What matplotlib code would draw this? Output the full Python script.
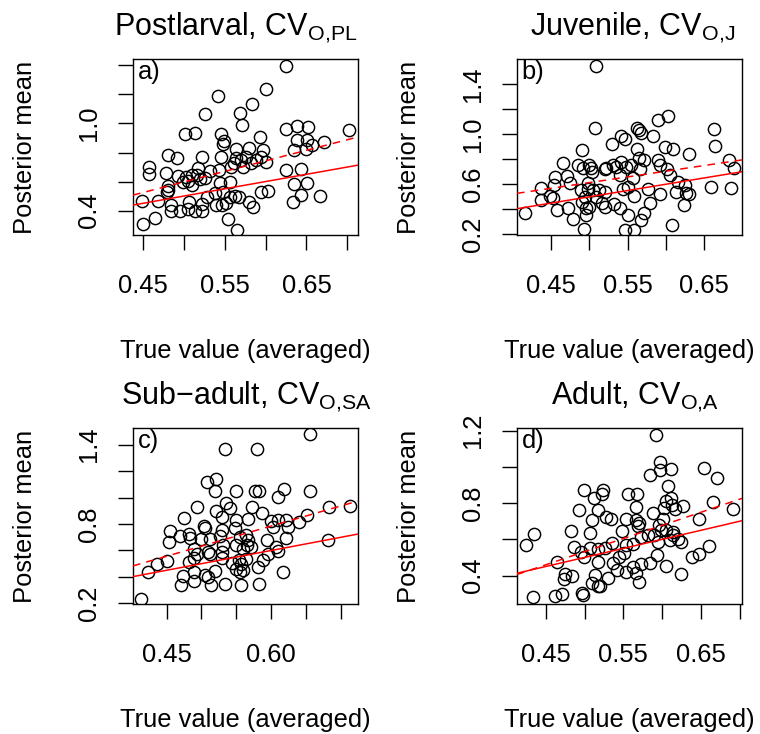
import matplotlib
matplotlib.use("Agg")
import matplotlib.pyplot as plt

plt.rcParams['font.family'] = ['Liberation Sans', 'DejaVu Sans']
plt.rcParams['mathtext.fontset'] = 'custom'
plt.rcParams['mathtext.rm'] = 'Liberation Sans'
plt.rcParams['font.size'] = 18.4

# ---------------- data ----------------
titles = ["Postlarval, CV$_{\\mathregular{O{,}PL}}$",
          "Juvenile, CV$_{\\mathregular{O{,}J}}$",
          "Sub\u2212adult, CV$_{\\mathregular{O{,}SA}}$",
          "Adult, CV$_{\\mathregular{O{,}A}}$"]
panel_tags = ["a)", "b)", "c)", "d)"]
xlabel_text = "True value (averaged)"
ylabel_text = "Posterior mean"

xa = [0.625,0.601,0.542,0.584,0.569,0.526,0.571,0.501,0.514,0.545,
      0.549,0.548,0.593,0.625,0.638,0.652,0.702,0.638,0.651,0.657,
      0.671,0.649,0.635,0.481,0.492,0.522,0.545,0.564,0.580,0.597,
      0.595,0.588,0.570,0.562,0.558,0.572,0.582,0.601,0.458,0.458,
      0.478,0.493,0.503,0.510,0.518,0.516,0.532,0.526,0.520,0.505,
      0.499,0.510,0.543,0.544,0.557,0.481,0.481,0.479,0.449,0.469,
      0.528,0.538,0.548,0.556,0.563,0.568,0.595,0.603,0.625,0.643,
      0.635,0.651,0.643,0.634,0.666,0.484,0.484,0.496,0.505,0.507,
      0.514,0.522,0.522,0.540,0.547,0.552,0.580,0.585,0.465,0.450,
      0.554,0.565,0.564,0.576]
ya = [1.398,1.239,1.191,1.133,1.071,1.064,0.991,0.926,0.933,0.926,
      0.876,0.857,0.910,0.963,0.986,0.975,0.952,0.887,0.883,0.853,
      0.869,0.823,0.814,0.784,0.761,0.768,0.772,0.823,0.834,0.814,
      0.768,0.749,0.749,0.726,0.703,0.699,0.726,0.738,0.699,0.653,
      0.657,0.639,0.634,0.646,0.692,0.646,0.676,0.623,0.616,0.607,
      0.600,0.577,0.680,0.589,0.595,0.570,0.543,0.531,0.469,0.469,
      0.497,0.524,0.531,0.497,0.503,0.497,0.526,0.538,0.680,0.687,
      0.584,0.589,0.508,0.462,0.503,0.439,0.400,0.398,0.409,0.462,
      0.400,0.400,0.446,0.439,0.439,0.451,0.462,0.423,0.352,0.308,
      0.340,0.267,0.761,0.772]

xb = [0.508,0.507,0.603,0.590,0.562,0.565,0.568,0.583,0.541,0.546,
      0.529,0.562,0.599,0.610,0.630,0.663,0.664,0.683,0.689,0.660,
      0.685,0.490,0.485,0.465,0.500,0.502,0.503,0.492,0.522,0.531,
      0.535,0.542,0.548,0.555,0.565,0.571,0.590,0.593,0.602,0.566,
      0.540,0.557,0.455,0.471,0.474,0.453,0.436,0.448,0.437,0.452,
      0.416,0.457,0.472,0.478,0.493,0.489,0.498,0.498,0.505,0.494,
      0.490,0.495,0.496,0.500,0.513,0.521,0.509,0.516,0.521,0.532,
      0.540,0.544,0.550,0.546,0.559,0.567,0.571,0.580,0.577,0.592,
      0.559,0.608,0.613,0.616,0.625,0.627,0.630,0.624,0.605,0.520,0.551]
yb = [1.547,1.053,1.147,1.115,1.053,1.035,1.013,0.989,0.987,0.960,
      0.920,0.880,0.901,0.883,0.843,1.040,0.907,0.795,0.728,0.576,
      0.568,0.875,0.755,0.768,0.755,0.728,0.701,0.728,0.728,0.755,
      0.736,0.781,0.741,0.755,0.808,0.795,0.795,0.755,0.720,0.720,
      0.675,0.648,0.656,0.667,0.608,0.595,0.573,0.507,0.475,0.488,
      0.368,0.395,0.408,0.320,0.240,0.555,0.613,0.560,0.555,0.501,
      0.461,0.408,0.355,0.421,0.555,0.541,0.501,0.453,0.421,0.443,
      0.408,0.560,0.355,0.235,0.235,0.315,0.368,0.448,0.560,0.523,
      0.507,0.275,0.541,0.621,0.595,0.533,0.523,0.435,0.675,0.720,0.581]

xc = [0.656,0.533,0.579,0.508,0.521,0.519,0.549,0.576,0.582,0.618,
      0.610,0.655,0.535,0.541,0.493,0.521,0.529,0.573,0.587,0.683,
      0.712,0.651,0.475,0.455,0.454,0.469,0.482,0.483,0.499,0.503,
      0.505,0.512,0.526,0.530,0.548,0.550,0.567,0.555,0.564,0.567,
      0.565,0.560,0.550,0.571,0.602,0.600,0.610,0.621,0.624,0.639,
      0.621,0.594,0.607,0.610,0.681,0.489,0.493,0.489,0.482,0.510,
      0.512,0.529,0.530,0.543,0.554,0.557,0.550,0.555,0.560,0.581,
      0.588,0.595,0.616,0.450,0.437,0.424,0.414,0.473,0.470,0.490,
      0.490,0.505,0.510,0.514,0.519,0.533,0.556,0.583,0.564,0.531]
yc = [1.484,1.368,1.368,1.114,1.139,1.053,1.053,1.050,1.050,1.065,
      1.007,1.053,0.961,0.918,0.931,0.901,0.855,0.926,0.885,0.931,
      0.936,0.868,0.842,0.748,0.664,0.710,0.728,0.697,0.690,0.784,
      0.766,0.685,0.708,0.758,0.766,0.829,0.835,0.703,0.715,0.677,
      0.639,0.614,0.639,0.626,0.779,0.824,0.829,0.829,0.779,0.817,
      0.697,0.682,0.626,0.596,0.677,0.614,0.571,0.545,0.512,0.588,
      0.576,0.588,0.545,0.505,0.525,0.499,0.461,0.436,0.449,0.474,
      0.525,0.576,0.436,0.517,0.494,0.436,0.233,0.406,0.340,0.368,
      0.436,0.416,0.398,0.335,0.444,0.347,0.340,0.347,0.538,0.639]

xd = [0.592,0.597,0.597,0.612,0.584,0.654,0.671,0.499,0.512,0.524,
      0.523,0.556,0.568,0.608,0.611,0.605,0.613,0.627,0.617,0.603,
      0.566,0.588,0.493,0.517,0.528,0.534,0.510,0.554,0.567,0.570,
      0.569,0.601,0.596,0.648,0.666,0.692,0.482,0.507,0.548,0.582,
      0.590,0.599,0.605,0.614,0.614,0.621,0.625,0.610,0.595,0.573,
      0.563,0.553,0.535,0.526,0.517,0.507,0.496,0.499,0.486,0.424,
      0.435,0.465,0.475,0.474,0.484,0.462,0.471,0.434,0.497,0.498,
      0.510,0.513,0.517,0.520,0.530,0.517,0.537,0.545,0.542,0.554,
      0.563,0.567,0.570,0.573,0.584,0.593,0.605,0.625,0.638,0.648,0.661,0.551]
yd = [1.178,1.026,0.981,0.986,0.957,0.995,0.940,0.871,0.830,0.874,
      0.852,0.849,0.849,0.895,0.830,0.812,0.788,0.783,0.770,0.775,
      0.779,0.746,0.761,0.761,0.724,0.711,0.706,0.715,0.706,0.688,
      0.673,0.710,0.678,0.711,0.807,0.770,0.645,0.633,0.645,0.623,
      0.623,0.651,0.651,0.642,0.623,0.600,0.587,0.596,0.587,0.614,
      0.574,0.568,0.578,0.550,0.545,0.550,0.532,0.504,0.559,0.568,
      0.627,0.477,0.409,0.380,0.395,0.285,0.297,0.279,0.303,0.290,
      0.358,0.404,0.345,0.340,0.389,0.477,0.468,0.504,0.431,0.422,
      0.449,0.413,0.363,0.462,0.471,0.514,0.455,0.407,0.504,0.517,0.563,0.526]

# fitted (dashed) regression lines: intercept, slope
fit_intercepts = [-0.131, 0.161, -0.130, -0.193]
fit_slopes = [1.456, 0.905, 1.525, 1.450]

# axis ranges
xlims = [(0.438, 0.713), (0.405, 0.700), (0.402, 0.724), (0.413, 0.703)]
ylims = [(0.232, 1.444), (0.195, 1.600), (0.195, 1.526), (0.243, 1.215)]

# ticks and labels (R drops overlapping labels)
xticks = [[0.45, 0.50, 0.55, 0.60, 0.65, 0.70],
          [0.45, 0.50, 0.55, 0.60, 0.65],
          [0.45, 0.50, 0.55, 0.60, 0.65, 0.70],
          [0.45, 0.50, 0.55, 0.60, 0.65, 0.70]]
xticklabels = [["0.45", "", "0.55", "", "0.65", ""],
               ["0.45", "", "0.55", "", "0.65"],
               ["0.45", "", "", "0.60", "", ""],
               ["0.45", "", "0.55", "", "0.65", ""]]
yticks = [[0.4, 0.6, 0.8, 1.0, 1.2, 1.4],
          [0.2, 0.4, 0.6, 0.8, 1.0, 1.2, 1.4],
          [0.2, 0.4, 0.6, 0.8, 1.0, 1.2, 1.4],
          [0.4, 0.6, 0.8, 1.0, 1.2]]
yticklabels = [["0.4", "", "", "1.0", "", ""],
               ["0.2", "", "0.6", "", "1.0", "", "1.4"],
               ["0.2", "", "", "0.8", "", "", "1.4"],
               ["0.4", "", "0.8", "", "1.2"]]

xs = [xa, xb, xc, xd]
ys = [ya, yb, yc, yd]

# ---------------- figure ----------------
W, H = 760, 734
fig = plt.figure(figsize=(W / 100, H / 100), dpi=100)

# axes boxes in pixels: left, top, right, bottom
boxes = [(133, 59, 358, 235), (517, 59, 742, 235),
         (133, 428, 358, 604), (517, 428, 742, 604)]
title_x = [0.458, 0.515, 0.504, 0.525]

for i in range(4):
    l, t, r, b = boxes[i]
    ax = fig.add_axes([l / W, 1 - b / H, (r - l) / W, (b - t) / H])
    n = min(len(xs[i]), len(ys[i]))
    ax.plot(xs[i][:n], ys[i][:n], linestyle='none', marker='o', markersize=8.8,
            markerfacecolor='none', markeredgecolor='black', markeredgewidth=1.05,
            zorder=2)
    ax.axline((0, 0), slope=1, color='#ff0000', lw=1.1, zorder=3)
    ax.axline((0, fit_intercepts[i]), slope=fit_slopes[i], color='#ff0000',
              lw=1.1, ls=(0, (5, 4)), zorder=3)
    ax.set_xlim(*xlims[i])
    ax.set_ylim(*ylims[i])
    ax.set_xticks(xticks[i])
    ax.set_xticklabels(xticklabels[i])
    ax.set_yticks(yticks[i])
    ax.set_yticklabels(yticklabels[i], rotation=90, va='center')
    ax.tick_params(direction='out', length=10.8, width=1.0,
                   labelsize=18.4, top=False, right=False)
    ax.tick_params(axis='x', pad=17)
    ax.tick_params(axis='y', pad=12)
    for s in ax.spines.values():
        s.set_linewidth(1.0)
    ax.set_title(titles[i], fontsize=22, pad=17, x=title_x[i])
    ax.set_xlabel(xlabel_text, fontsize=18.4, labelpad=30)
    ax.set_ylabel(ylabel_text, fontsize=18.4, labelpad=29)
    ax.text(0.02, 0.995, panel_tags[i], transform=ax.transAxes,
            ha='left', va='top', fontsize=18.4)

fig.savefig("out.png", dpi=100)
